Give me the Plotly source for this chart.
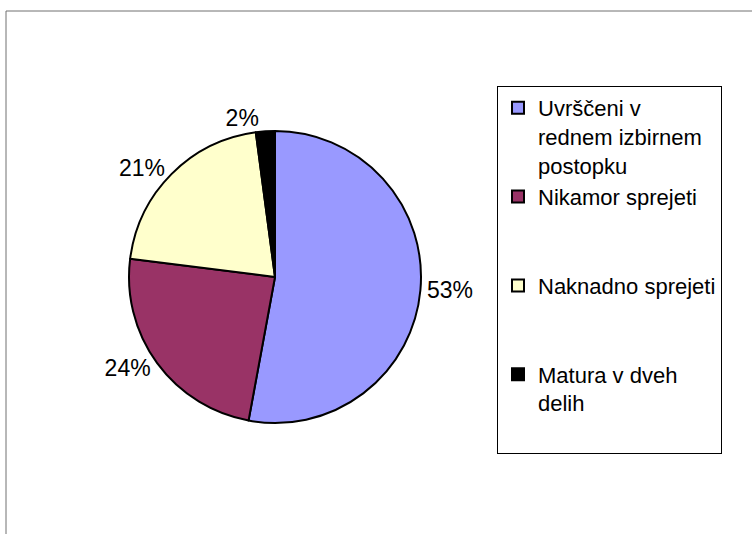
import plotly.graph_objects as go

categories = ["Uvrščeni v<br>rednem izbirnem<br>postopku",
              "Nikamor sprejeti<br> <br> ",
              "Naknadno sprejeti<br> <br> ",
              "Matura v dveh<br>delih<br> "]
values = [52.9, 24.1, 20.9, 2.1]
colors = ["#9999FF", "#993366", "#FFFFCC", "#000000"]

W, H = 752, 534
cx, cy, r = 275, 277, 146

fig = go.Figure(go.Pie(
    labels=categories,
    values=values,
    sort=False,
    direction="clockwise",
    rotation=0,
    marker=dict(colors=colors, line=dict(color="black", width=2)),
    textposition="outside",
    texttemplate="%{percent:.0%}",
    textfont=dict(size=23, color="black", family="Liberation Sans, Arial"),
    domain=dict(x=[(cx - r) / W, (cx + r) / W],
                y=[(H - cy - r) / H, (H - cy + r) / H]),
    hoverinfo="label+percent",
))

fig.update_layout(
    width=W, height=H,
    margin=dict(l=0, r=0, t=0, b=0),
    paper_bgcolor="white",
    plot_bgcolor="white",
    font=dict(family="Liberation Sans, Arial", size=22, color="black"),
    showlegend=True,
    legend=dict(
        x=497 / W, y=1 - 86 / H, xanchor="left", yanchor="top",
        bordercolor="black", borderwidth=1, bgcolor="white",
        valign="top",
        font=dict(size=22, color="black", family="Liberation Sans, Arial"),
    ),
    shapes=[
        dict(type="line", xref="paper", yref="paper",
             x0=6 / W, x1=1, y0=1 - 11 / H, y1=1 - 11 / H,
             line=dict(color="#707070", width=1)),
        dict(type="line", xref="paper", yref="paper",
             x0=6 / W, x1=6 / W, y0=0, y1=1 - 11 / H,
             line=dict(color="#707070", width=1)),
    ],
)

fig.write_html("out.html",
               config={"displayModeBar": False},
               post_script="document.body.style.margin='0';document.body.style.padding='0';")
